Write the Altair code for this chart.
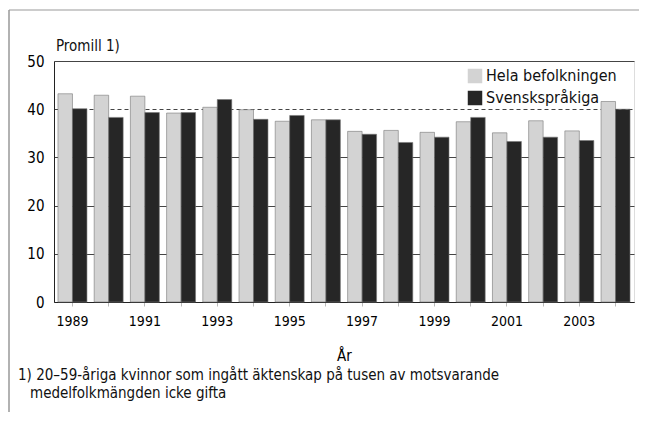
import altair as alt
import pandas as pd

years = list(range(1989, 2005))
hela = [43.2, 42.9, 42.7, 39.2, 40.4, 39.9, 37.5, 37.8, 35.4, 35.6, 35.2, 37.4, 35.1, 37.6, 35.5, 41.6]
svensk = [40.1, 38.3, 39.3, 39.3, 42.0, 37.9, 38.7, 37.8, 34.8, 33.1, 34.2, 38.3, 33.3, 34.2, 33.5, 40.0]
series = ["Hela befolkningen", "Svenskspråkiga"]
y_ticks = [0, 10, 20, 30, 40, 50]
y_label = "Promill 1)"
x_title = "År"
foot1 = "1) 20–59-åriga kvinnor som ingått äktenskap på tusen av motsvarande"
foot2 = "medelfolkmängden icke gifta"

rows = []
for i, yr in enumerate(years):
    rows.append({"År": yr, "Serie": series[0], "v": hela[i]})
    rows.append({"År": yr, "Serie": series[1], "v": svensk[i]})
df = pd.DataFrame(rows)

FONT = "DejaVu Sans Condensed, Roboto, sans-serif"
W, H = 580, 241

bars = alt.Chart(df).mark_bar(stroke="#777", strokeWidth=0.6).encode(
    x=alt.X("År:O", scale=alt.Scale(paddingInner=0.2, paddingOuter=0.11),
            axis=alt.Axis(title=x_title, labelAngle=0, labelFontSize=14, labelFont=FONT,
                          labelPadding=8, tickSize=4, tickColor="#bbb", domainColor="#222",
                          labelExpr="datum.value % 2 == 1 ? datum.label : ''",
                          titleFont=FONT, titleFontSize=15, titleFontWeight="normal",
                          titlePadding=20, grid=False)),
    xOffset=alt.XOffset("Serie:N", sort=series),
    y=alt.Y("v:Q", scale=alt.Scale(domain=[0, 50], nice=False),
            axis=alt.Axis(title=None, values=y_ticks, labelFontSize=15, labelFont=FONT,
                          tickSize=0, labelPadding=10, domainColor="#222",
                          grid=True, gridColor="#444", gridWidth=1,
                          gridDash={"condition": {"test": "datum.value == 40", "value": [4, 3]}, "value": []})),
    color=alt.Color("Serie:N", sort=series,
                    scale=alt.Scale(domain=series, range=["#d3d3d3", "#262626"]),
                    legend=alt.Legend(title=None, orient="none", legendX=413, legendY=7,
                                      symbolType="square", symbolSize=210, symbolStrokeWidth=0,
                                      labelFont=FONT, labelFontSize=16, labelColor="#111",
                                      rowPadding=6, symbolOffset=0, labelOffset=3)),
)

def txt(s, x, y, size=15, align="left"):
    return alt.Chart(pd.DataFrame({"t": [s]})).mark_text(
        align=align, baseline="middle", font=FONT, fontSize=size, color="#111"
    ).encode(text="t:N", x=alt.value(x), y=alt.value(y))

ylab = txt(y_label, 2, -15, 15)
f1 = txt(foot1, -36, 314, 15)
f2 = txt(foot2, -24, 332, 15)

top_line = alt.Chart(pd.DataFrame({"a": [0]})).mark_rule(color="#999", strokeWidth=1).encode(
    x=alt.value(-45), x2=alt.value(593), y=alt.value(-51))
left_line = alt.Chart(pd.DataFrame({"a": [0]})).mark_rule(color="#999", strokeWidth=1.5).encode(
    x=alt.value(-45), y=alt.value(-51), y2=alt.value(364))

chart = alt.layer(top_line, left_line, bars, ylab, f1, f2).properties(
    width=W, height=H,
    padding={"left": 46, "top": 53, "right": 5, "bottom": 110},
    autosize=alt.AutoSizeParams(type="none"),
).configure_view(stroke="#222", strokeWidth=1).configure(background="white")

chart.save("out.html", embed_options={"renderer": "svg", "actions": False})
